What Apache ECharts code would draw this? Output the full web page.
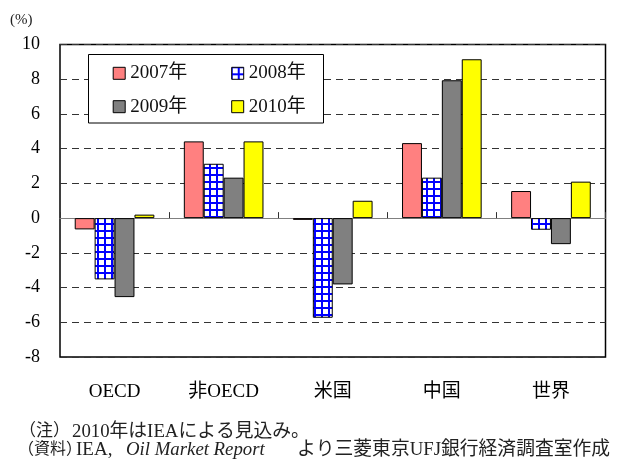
<!DOCTYPE html>
<html>
<head>
<meta charset="utf-8">
<script src="https://cdn.jsdelivr.net/npm/echarts@6/dist/echarts.min.js"></script>
<style>html,body{margin:0;padding:0;background:#fff;}#c{width:617px;height:460px;}</style>
</head>
<body>
<div id="c"></div>
<script>
const categories = ['OECD', '非OECD', '米国', '中国', '世界'];
const seriesNames = ['2007年', '2008年', '2009年', '2010年'];
const v2007 = [-0.65, 4.42, -0.1, 4.32, 1.56];
const v2008 = [-3.53, 3.13, -5.74, 2.33, -0.67];
const v2009 = [-4.55, 2.33, -3.82, 7.94, -1.5];
const v2010 = [0.2, 4.42, 1.0, 9.15, 2.1];
const yTicks = [-8, -6, -4, -2, 0, 2, 4, 6, 8, 10];
const unitLabel = '(%)';
const noteLabel = '（注）';
const noteText = '2010年はIEAによる見込み。';
const srcLabel = '（資料）';
const srcOrg = 'IEA,';
const srcTitle = 'Oil Market Report';
const srcRest = 'より三菱東京UFJ銀行経済調査室作成';

const FONT = "'Liberation Serif', 'Noto Sans CJK JP', serif";

// blue grid pattern
const pc = document.createElement('canvas');
pc.width = 7; pc.height = 7;
const pctx = pc.getContext('2d');
pctx.fillStyle = '#0000ff';
pctx.fillRect(0, 0, 7, 7);
pctx.fillStyle = '#ffffff';
pctx.fillRect(1, 1, 5, 5);
const pattern = { image: pc, repeat: 'repeat' };

const colors = ['#ff8080', pattern, '#808080', '#ffff00'];
const values = [v2007, v2008, v2009, v2010];

const chart = echarts.init(document.getElementById('c'), null, { renderer: 'canvas' });

const series = seriesNames.map((n, i) => ({
  name: n,
  type: 'bar',
  xAxisIndex: 0,
  data: values[i],
  barGap: '0%',
  barCategoryGap: '27%',
  itemStyle: { color: colors[i], borderColor: '#000', borderWidth: 1 },
  emphasis: { disabled: true },
  z: 2
}));

const legendCommon = {
  orient: 'horizontal',
  padding: 0,
  itemWidth: 12,
  itemHeight: 12,
  itemGap: 44,
  icon: 'rect',
  selectedMode: false,
  textStyle: { fontFamily: FONT, fontSize: 19, color: '#111', lineHeight: 20 },
  itemStyle: { borderColor: '#000', borderWidth: 1 },
  z: 5
};

function txt(x, y, text, size, extra) {
  return Object.assign({
    type: 'text', x: x, y: y, z: 5,
    style: { text: text, fontFamily: FONT, fontSize: size, fill: '#222', verticalAlign: 'middle', align: 'left' }
  }, extra || {});
}

const titleText = txt(126, 450, srcTitle, 18.8);
titleText.style.fontStyle = 'italic';

chart.setOption({
  animation: false,
  backgroundColor: '#fff',
  grid: {
    left: 60, right: 11.5, top: 44.5, bottom: 103,
    show: true, borderColor: '#000', borderWidth: 1.5, backgroundColor: 'transparent'
  },
  legend: [
    Object.assign({}, legendCommon, { left: 112.7, top: 63.3, data: [seriesNames[0], seriesNames[1]] }),
    Object.assign({}, legendCommon, { left: 112.7, top: 96.7, data: [seriesNames[2], seriesNames[3]] })
  ],
  xAxis: [
    {
      type: 'category', data: categories, position: 'bottom',
      axisLine: { show: false, onZero: false },
      axisTick: { show: false },
      axisLabel: { fontFamily: FONT, fontSize: 19, color: '#000', margin: 26 },
      splitLine: { show: false }
    },
    {
      type: 'category', data: categories, position: 'bottom', boundaryGap: true,
      axisLine: { show: true, onZero: true, onZeroAxisIndex: 0, lineStyle: { color: '#808080', width: 1 } },
      axisTick: { show: true, inside: true, length: 6, lineStyle: { color: '#333', width: 1 } },
      axisLabel: { show: false },
      splitLine: { show: false }
    }
  ],
  yAxis: {
    type: 'value', min: yTicks[0], max: yTicks[yTicks.length - 1], interval: 2,
    axisLine: { show: false },
    axisTick: { show: false },
    axisLabel: { fontFamily: FONT, fontSize: 18, color: '#000', margin: 20 },
    splitLine: { show: true, lineStyle: { type: [7, 5], color: '#333', width: 1 } }
  },
  graphic: [
    {
      type: 'rect', z: 3,
      shape: { x: 88.5, y: 54.5, width: 235, height: 68.5 },
      style: { fill: '#fff', stroke: '#000', lineWidth: 1 }
    },
    txt(10, 20, unitLabel, 15, null),
    txt(19, 432, noteLabel, 17),
    txt(72, 432, noteText, 18.8),
    txt(18, 450, srcLabel, 16),
    txt(76, 450, srcOrg, 19),
    titleText,
    txt(297, 450, srcRest, 18.8)
  ],
  series: series
});
</script>
</body>
</html>
